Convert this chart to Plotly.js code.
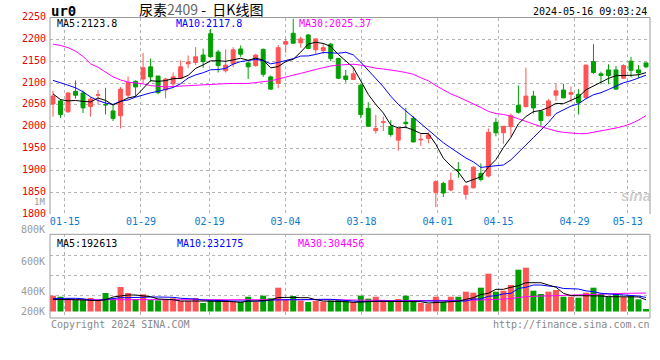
<!DOCTYPE html>
<html><head><meta charset="utf-8">
<script src="https://cdn.plot.ly/plotly-3.0.1.min.js"></script>
<style>html,body{margin:0;padding:0;background:#fff}#chart{width:660px;height:360px}</style>
</head><body><div id="chart"></div><script>
const dates = ['01-11','01-12','01-15','01-16','01-17','01-18','01-19','01-22','01-23','01-24','01-25','01-26','01-29','01-30','01-31','02-01','02-02','02-05','02-06','02-07','02-08','02-19','02-20','02-21','02-22','02-23','02-26','02-27','02-28','02-29','03-01','03-04','03-05','03-06','03-07','03-08','03-11','03-12','03-13','03-14','03-15','03-18','03-19','03-20','03-21','03-22','03-25','03-26','03-27','03-28','03-29','04-01','04-02','04-03','04-08','04-09','04-10','04-11','04-12','04-15','04-16','04-17','04-18','04-19','04-22','04-23','04-24','04-25','04-26','04-29','04-30','05-06','05-07','05-08','05-09','05-10','05-13','05-14','05-15','05-16'];
const openP  = [2052,2059,2034,2081,2077,2046,2072,2051,2036,2025,2072,2104,2109,2137,2116,2084,2098,2111,2144,2147,2164,2213,2171,2128,2144,2178,2146,2140,2177,2114,2099,2189,2214,2192,2210,2176,2174,2189,2156,2116,2108,2095,2042,1991,2010,2000,1969,2010,2019,1970,1973,1849,1870,1855,1902,1845,1860,1893,1887,2010,1986,2000,2049,2046,2070,2035,2025,2072,2084,2074,2074,2066,2149,2121,2130,2130,2111,2150,2130,2146];
const highP  = [2082,2063,2080,2106,2083,2068,2084,2089,2051,2091,2115,2106,2169,2156,2116,2112,2124,2152,2163,2182,2179,2224,2176,2177,2182,2186,2149,2166,2179,2117,2187,2201,2247,2206,2212,2202,2191,2192,2158,2130,2137,2099,2056,2027,2023,2015,1997,2043,2024,1984,1987,1877,1874,1895,1919,1867,1910,1916,1996,2020,2001,2030,2094,2135,2082,2036,2063,2098,2098,2092,2086,2141,2189,2126,2143,2139,2143,2160,2141,2147];
const lowP   = [2023,2020,2032,2064,2031,2023,2051,2028,2013,1996,2066,2068,2099,2103,2074,2065,2093,2109,2134,2141,2135,2158,2124,2124,2136,2160,2109,2137,2114,2084,2088,2169,2191,2181,2177,2166,2166,2150,2109,2101,2107,2019,2000,1984,1990,1977,1945,1996,1964,1956,1962,1816,1839,1852,1883,1833,1858,1875,1884,1978,1961,1977,2030,2044,2030,2000,2024,2059,2065,2056,2028,2065,2121,2097,2097,2084,2109,2113,2112,2134];
const closeP = [2070,2028,2077,2072,2043,2063,2073,2050,2019,2086,2101,2091,2135,2114,2078,2109,2114,2137,2148,2160,2149,2160,2140,2141,2176,2166,2137,2164,2120,2086,2181,2195,2191,2201,2179,2201,2181,2156,2111,2108,2121,2028,2001,1996,2011,1982,1996,2007,1965,1971,1981,1874,1848,1877,1900,1864,1907,1879,1987,1986,2001,2025,2033,2070,2043,2014,2059,2082,2066,2078,2055,2141,2124,2117,2117,2086,2140,2129,2123,2137];
const ma5  = [2075,2062,2059,2060,2058,2056.6,2065.6,2060.2,2049.6,2058.2,2065.7,2069.4,2086.4,2105.3,2103.8,2105.5,2109.9,2110.4,2117.3,2133.5,2141.4,2150.6,2151.1,2149.7,2153,2156.6,2152.1,2157,2152.7,2134.7,2137.6,2149.1,2154.4,2170.6,2189.3,2193.3,2190.6,2183.7,2165.6,2151.4,2135.5,2104.9,2073.9,2050.9,2031.5,2003.7,1997.3,1998.5,1992.4,1984.4,1984.1,1959.6,1927.8,1910.3,1895.9,1872.5,1879.2,1885.3,1907.2,1924.5,1952,1975.5,2006.4,2023.1,2034.5,2037,2043.7,2053.4,2052.6,2059.6,2067.9,2084.4,2092.8,2102.9,2110.5,2116.8,2116.5,2117.6,2118.8,2123.8];
const ma10 = [2106,2101,2095,2089,2080,2068,2060,2054,2051,2058.1,2061.2,2067.5,2073.3,2077.5,2081,2085.6,2089.7,2098.4,2111.3,2118.6,2123.5,2130.3,2130.7,2133.5,2143.3,2149,2151.4,2154,2151.2,2143.9,2147.1,2150.6,2155.7,2161.7,2162,2165.4,2169.8,2169,2168.1,2170.4,2164.4,2147.7,2128.8,2108.3,2091.5,2069.6,2051.1,2036.2,2021.7,2008,1993.9,1978.5,1963.2,1951.3,1940.2,1928.3,1919.4,1906.6,1908.7,1910.2,1912.2,1924,1940,1958,1975,1992,2009.6,2029.9,2037.8,2047.1,2052.4,2064.1,2073.1,2077.8,2085.1,2092.4,2100.5,2105.2,2110.9,2117.8];
const ma30 = [2189,2186,2181,2173,2161,2144,2136,2125,2114,2107,2102,2100,2098,2094,2092,2091,2092,2093,2095,2096,2097,2098,2098,2098.5,2099,2099,2099,2101,2103,2105,2109,2114,2118,2122,2127,2131,2135,2139,2141,2142,2143,2141,2137,2134,2132,2130,2127,2124,2120,2112,2105,2094,2085,2075,2068,2060,2053,2044,2035,2030,2028,2024,2018,2012,2005,2000,1995,1990,1987,1985,1984,1984,1987,1991,1993,1997,2001,2007,2015,2025.37];
const volume = [261,244,218,190,190,223,178,305,206,404,305,206,283,190,184,206,218,173,173,223,140,184,201,190,162,157,244,162,261,218,393,206,256,178,157,173,162,184,190,178,157,261,212,244,173,168,206,261,173,140,129,244,157,244,244,327,310,393,624,327,343,437,690,723,343,289,327,355,244,244,228,310,393,289,244,300,240,255,200,41].map(v => v * 1000);
const volMa5  = [200,201,201,195,190,179,179,195,239,256,272,272,261,245,206,206,195,173,168,173,173,173,173,168,162,151,173,173,179,190,230,234,234,228,228,195,173,168,168,162,151,162,162,168,168,168,168,168,168,162,140,145,151,162,170,200,228,280,300,366,366,400,426,475,475,475,437,400,300,261,261,261,261,256,245,245,245,245,240,192.613].map(v => v * 1000);
const volMa10 = [215,218,218,218,210,190,184,200,220,228,228,234,239,239,239,239,234,218,218,206,190,184,184,179,173,173,173,173,173,190,195,195,195,195,201,201,201,201,195,190,173,162,168,173,173,173,173,173,168,168,162,162,162,173,173,173,206,206,250,261,290,300,380,400,437,437,420,410,380,371,371,340,327,300,289,289,270,261,255,232.175].map(v => v * 1000);
const volMa30 = [195,195,195,195,195,195,195,196,196,197,197,197,197,197,196,196,196,196,196,196,196,196,196,196,196,196,196,197,198,200,204,205,206,206,205,203,200,197,194,191,188,186,184,183,182,181,180,180,179,178,177,177,178,180,182,184,186,188,192,198,205,215,235,245,250,255,260,264,268,272,276,280,285,288,292,296,299,301,303,304.456].map(v => v * 1000);
const tickLabels = ['01-15','01-29','02-19','03-04','03-18','04-01','04-15','04-29','05-13'];
const priceTicks = [1800,1850,1900,1950,2000,2050,2100,2150,2200,2250];

const RED = '#ff5555', GREEN = '#00a000';
const W = 660, H = 360;
const px = x => x / W, py = y => 1 - y / H;
const idx = dates.map((d, i) => i);
const tickPos = tickLabels.map(d => { const i = dates.indexOf(d); return i - 0.44 + 0.0133 * i; });
const volColors = closeP.map((c, i) => c >= openP[i] ? RED : GREEN);
const mono = 'DejaVu Sans Mono, monospace';

const traces = [
  {type:'candlestick', x: idx, open: openP, high: highP, low: lowP, close: closeP, xaxis:'x', yaxis:'y',
   increasing:{line:{color:RED, width:1}, fillcolor:RED},
   decreasing:{line:{color:GREEN, width:1}, fillcolor:GREEN}, whiskerwidth:0, hoverinfo:'skip'},
  {type:'scatter', mode:'lines', x: idx, y: ma30, line:{color:'#ff00ff', width:1}, xaxis:'x', yaxis:'y', hoverinfo:'skip'},
  {type:'scatter', mode:'lines', x: idx, y: ma10, line:{color:'#0000ff', width:1}, xaxis:'x', yaxis:'y', hoverinfo:'skip'},
  {type:'scatter', mode:'lines', x: idx, y: ma5, line:{color:'#000000', width:1}, xaxis:'x', yaxis:'y', hoverinfo:'skip'},
  {type:'bar', x: idx, y: volume, marker:{color: volColors, line:{width:0}}, xaxis:'x2', yaxis:'y2', hoverinfo:'skip'},
  {type:'scatter', mode:'lines', x: idx, y: volMa30, line:{color:'#ff00ff', width:1}, xaxis:'x2', yaxis:'y2', hoverinfo:'skip'},
  {type:'scatter', mode:'lines', x: idx, y: volMa10, line:{color:'#0000ff', width:1}, xaxis:'x2', yaxis:'y2', hoverinfo:'skip'},
  {type:'scatter', mode:'lines', x: idx, y: volMa5, line:{color:'#000000', width:1}, xaxis:'x2', yaxis:'y2', hoverinfo:'skip'}
];

function ann(text, x, y, anchor, color, size, family) {
  return {text, x: px(x), y: py(y), xref:'paper', yref:'paper', xanchor: anchor, yanchor:'middle',
          showarrow:false, font:{family: family || mono, size: size || 10, color: color || '#000'}};
}

const grid = {showgrid:true, gridcolor:'#b4b4b4', griddash:'dot', gridwidth:1, zeroline:false, showline:false, ticks:'', automargin:false, fixedrange:true};

const layout = {
  width: W, height: H, margin:{l:0, r:0, t:0, b:0}, paper_bgcolor:'#fff', plot_bgcolor:'#fff',
  showlegend:false, hovermode:false, dragmode:false, bargap:0.2, boxgap:0.25,
  xaxis: Object.assign({}, grid, {domain:[px(50), px(650)], range:[-0.4, 79.53], anchor:'y',
    tickmode:'array', tickvals: tickPos, ticktext: tickLabels, rangeslider:{visible:false},
    tickfont:{family: mono, size:10, color:'#0a7ad0'}, ticklabelstandoff:0}),
  yaxis: Object.assign({}, grid, {domain:[py(214), py(17.5)], range:[1800, 2250], anchor:'x',
    tickmode:'array', tickvals: priceTicks, ticktext: priceTicks.map(String),
    tickfont:{family: mono, size:10, color:'#ee0000'}, ticklabelstandoff:3, ticklabelshift:-1}),
  xaxis2: Object.assign({}, grid, {domain:[px(50), px(650)], range:[-0.4, 79.53], anchor:'y2', matches:'x',
    tickmode:'array', tickvals: tickPos, showticklabels:false}),
  yaxis2: Object.assign({}, grid, {domain:[py(318), py(234.3)], range:[-107250, 1273800], anchor:'x2',
    tickmode:'array', tickvals:[272250, 602250, 932250], showticklabels:false}),
  shapes: [
    {type:'line', xref:'paper', yref:'paper', x0:px(50), x1:px(650), y0:py(17.5), y1:py(17.5), line:{color:'#9a9a9a', width:1}},
    {type:'line', xref:'paper', yref:'paper', x0:px(50), x1:px(50), y0:py(17.5), y1:py(214), line:{color:'#9a9a9a', width:1}},
    {type:'line', xref:'paper', yref:'paper', x0:px(650), x1:px(650), y0:py(17.5), y1:py(214), line:{color:'#9a9a9a', width:1}},
    {type:'rect', xref:'paper', yref:'paper', x0:px(50), x1:px(650), y0:py(318), y1:py(234.3), line:{color:'#9a9a9a', width:1}}
  ],
  annotations: [
    ann('<b>ur0</b>', 49, 11, 'left', '#000', 14),
    ann('尿素<span style="color:#666">2409</span>\u00a0-\u00a0\u00a0日K线图', 201, 9, 'center', '#000', 14, 'Noto Sans CJK SC, sans-serif'),
    ann('2024-05-16 09:03:24', 649, 12, 'right', '#000', 10),
    ann('MA5:2123.8', 55, 24, 'left', '#000'),
    ann('MA10:2117.8', 174, 24, 'left', '#0000ff'),
    ann('MA30:2025.37', 297, 24, 'left', '#ff00ff'),
    ann('MA5:192613', 55, 243, 'left', '#000'),
    ann('MA10:232175', 175, 243, 'left', '#0000ff'),
    ann('MA30:304456', 296, 243, 'left', '#ff00ff'),
    ann('1M', 47, 202, 'right', '#9a9a9a', 9),
    ann('800K', 47, 230, 'right', '#9a9a9a'),
    ann('600K', 47, 261, 'right', '#9a9a9a'),
    ann('400K', 47, 291, 'right', '#9a9a9a'),
    ann('200K', 47, 311, 'right', '#9a9a9a'),
    ann('Copyright 2024 SINA.COM', 49, 324, 'left', '#888'),
    ann('http://finance.sina.com.cn', 652, 324, 'right', '#888'),
    ann('<b><i>sina</i></b>', 636, 196, 'center', 'rgba(190,190,190,0.75)', 15, 'Liberation Sans, sans-serif')
  ]
};

Plotly.newPlot('chart', traces, layout, {staticPlot:true, displayModeBar:false});
</script></body></html>
